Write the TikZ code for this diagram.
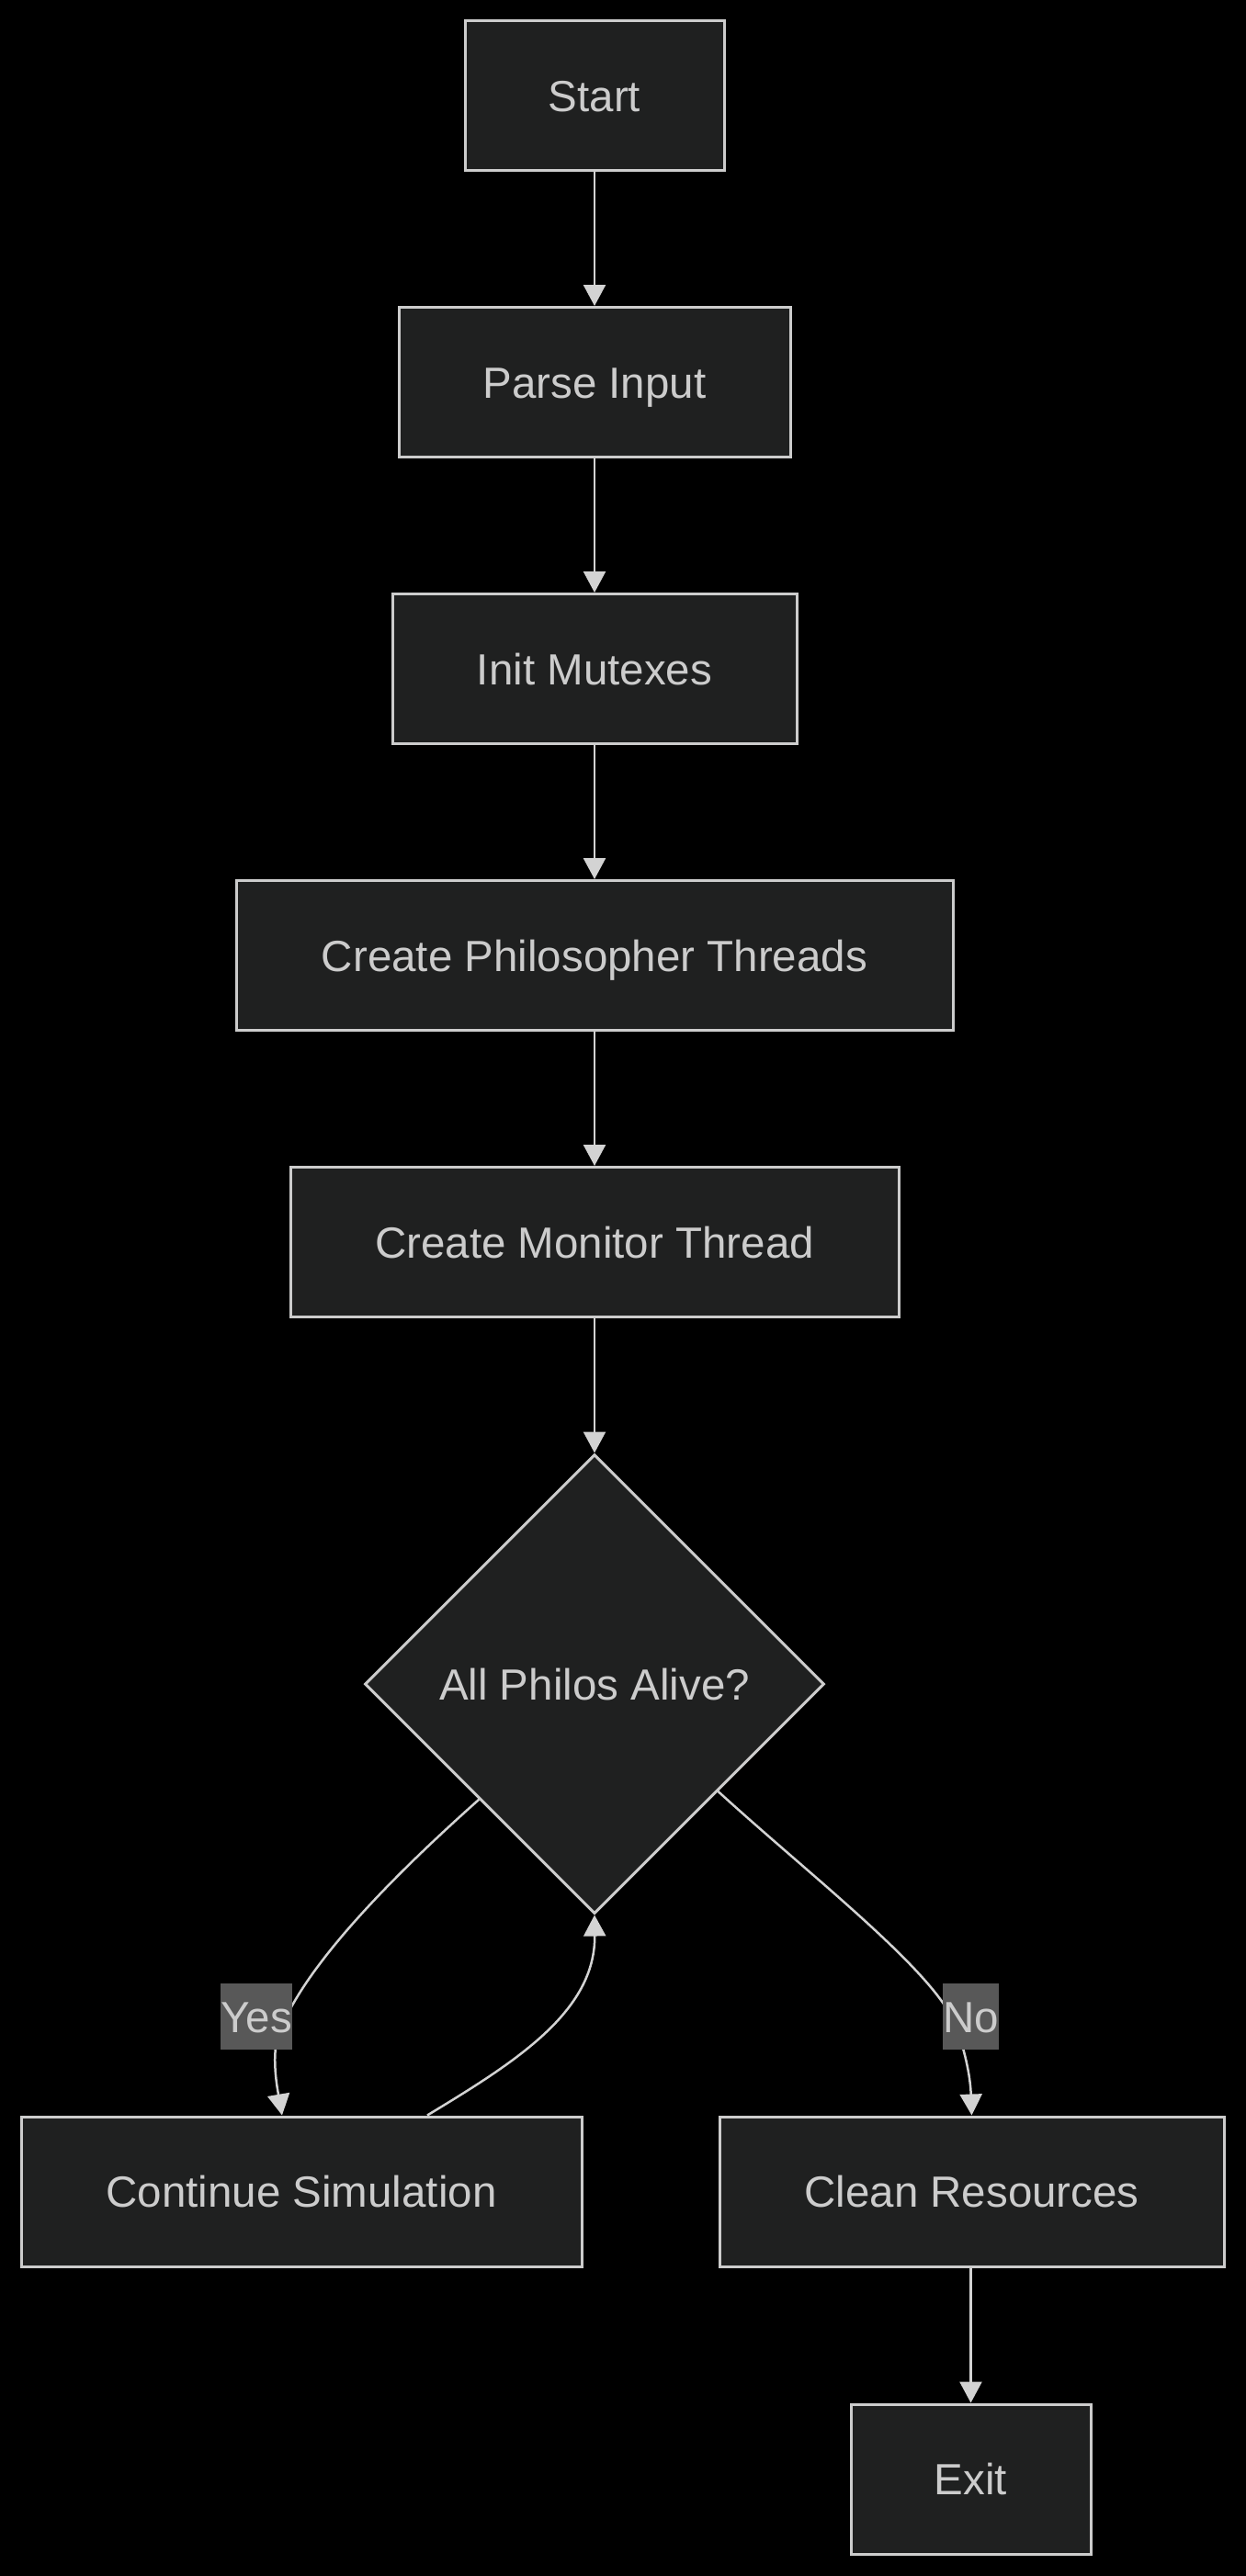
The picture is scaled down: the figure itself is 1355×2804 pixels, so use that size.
\documentclass[tikz,border=0pt]{standalone}
\usepackage{fontspec}
\setmainfont{Liberation Sans}
\usetikzlibrary{shapes.geometric,arrows.meta,calc}
\definecolor{nodefill}{HTML}{1F2020}
\definecolor{nodeline}{HTML}{CCCCCC}
\definecolor{edgeline}{HTML}{D3D3D3}
\definecolor{labelbg}{HTML}{585858}
\definecolor{txt}{HTML}{CCCCCC}
\begin{document}
\begin{tikzpicture}[x=1pt,y=-1pt,
  box/.style={draw=nodeline, fill=nodefill, line width=3pt, minimum height=163pt, inner sep=0pt, text=txt, text height=34pt, text depth=0pt, font=\fontsize{47.5}{57}\selectfont},
  dec/.style={diamond, aspect=1, draw=nodeline, fill=nodefill, line width=3pt, minimum width=500pt, minimum height=500pt, inner sep=0pt, text=txt, text height=34pt, text depth=0pt, font=\fontsize{47.5}{57}\selectfont},
  edge/.style={draw=edgeline, line width=2.5pt, -{Triangle[length=23pt,width=24pt]}},
  elabel/.style={fill=labelbg, text=txt, inner sep=0pt, minimum height=72pt, text height=34pt, text depth=0pt, font=\fontsize{47.5}{57}\selectfont}]
\useasboundingbox (0,0) rectangle (1355,2804);
\fill[black] (-10,-10) rectangle (1365,2814);
\node[box, minimum width=282pt] (start) at (647,104.5) {Start};
\node[box, minimum width=426pt] (parse) at (647,416) {Parse Input};
\node[box, minimum width=440pt] (init) at (647,728) {Init Mutexes};
\node[box, minimum width=780pt] (cpt) at (647,1040) {Create Philosopher Threads};
\node[box, minimum width=662pt] (cmt) at (647,1352) {Create Monitor Thread};
\node[dec] (dia) at (647,1833) {All Philos Alive?};
\node[box, minimum width=610pt] (cont) at (328,2385.5) {Continue Simulation};
\node[box, minimum width=549pt] (clean) at (1057.5,2385.5) {Clean Resources};
\node[box, minimum width=261pt] (exit) at (1056.5,2698.5) {Exit};
\draw[edge] (start) -- (parse);
\draw[edge] (parse) -- (init);
\draw[edge] (init) -- (cpt);
\draw[edge] (cpt) -- (cmt);
\draw[edge] (cmt) -- (dia);
\draw[edge] (dia.south west) .. controls (430,2040) and (330,2140) .. (303,2215) .. controls (294,2240) and (304,2285) .. ([xshift=-21pt]cont.north);
\draw[edge] ([xshift=137pt]cont.north) .. controls (560,2245) and (648,2190) .. (dia.south);
\draw[edge] (dia.-41) .. controls (880,2040) and (1010,2140) .. (1038,2200) .. controls (1050,2230) and (1056,2260) .. (clean.north);
\draw[edge] (exit.north |- clean.south) -- (exit.north);
\node[elabel, minimum width=78pt] (yes) at (279,2195) {Yes};
\node[elabel, minimum width=61pt] (no) at (1056.5,2195) {No};
\end{tikzpicture}
\end{document}
